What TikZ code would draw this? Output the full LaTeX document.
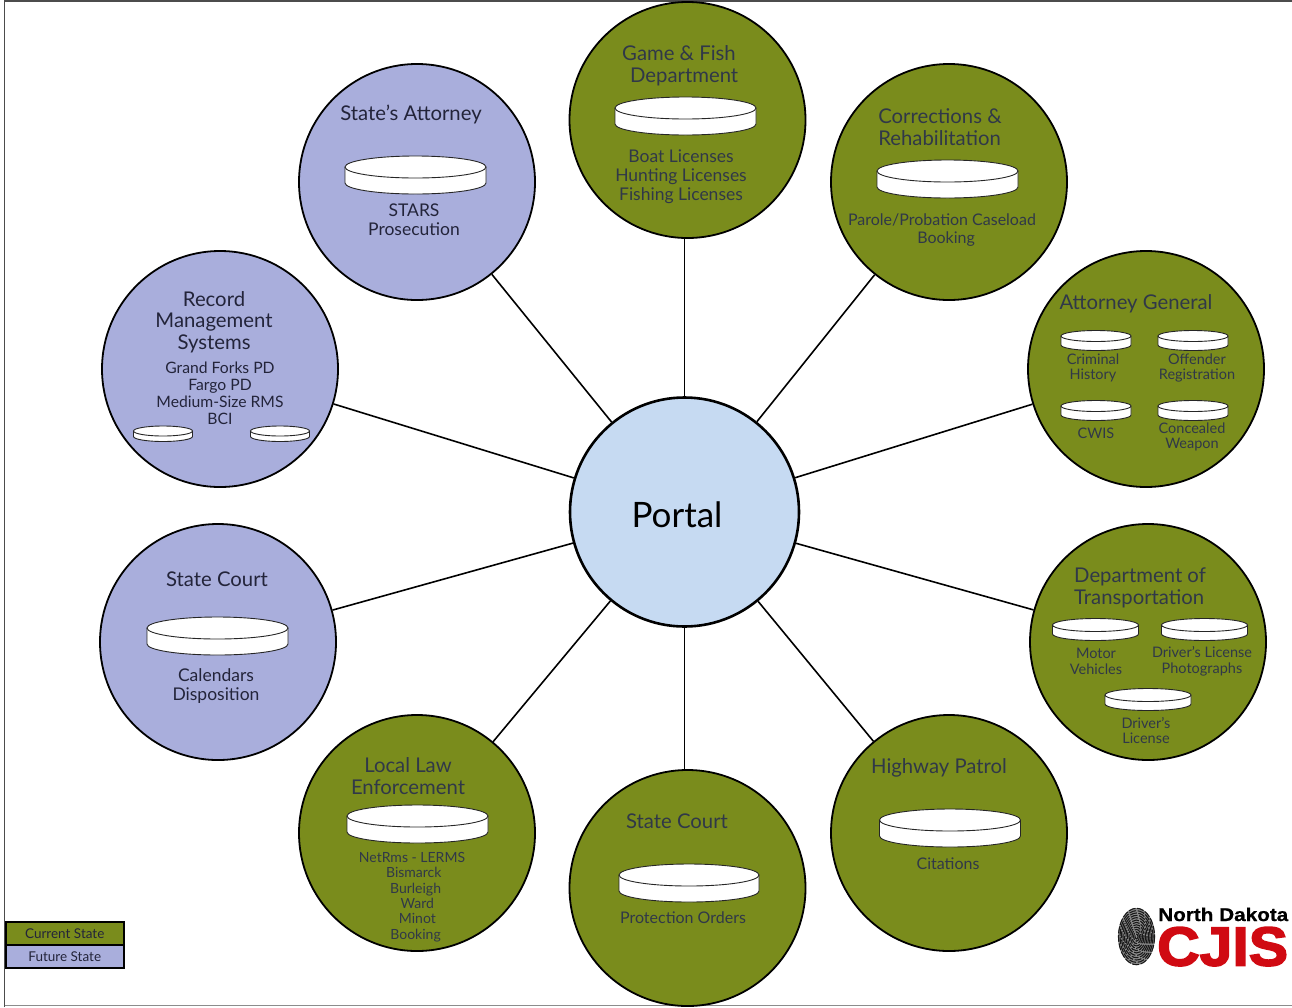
\documentclass[tikz,border=0pt]{standalone}
\usepackage{fontspec}
\setmainfont{Lato}
\newfontfamily\logofont{Liberation Sans}
\definecolor{greenfill}{HTML}{7A8C1C}
\definecolor{bluefill}{HTML}{A9AEDC}
\definecolor{portalfill}{HTML}{C6DAF2}
\definecolor{inkgreen}{HTML}{303848}
\definecolor{inkblue}{HTML}{23243A}
\definecolor{cjisred}{HTML}{D00A12}
\tikzset{
  hub/.style={circle,draw=black,line width=1.8pt,minimum size=236pt,inner sep=0pt},
  cur/.style={hub,fill=greenfill},
  fut/.style={hub,fill=bluefill},
  link/.style={draw=black,line width=1.6pt},
  big/.style={align=center,inner sep=0pt,font=\fontsize{20.3}{21.5}\selectfont},
  mid/.style={align=center,inner sep=0pt,font=\fontsize{17.5}{19}\selectfont},
  midn/.style={align=center,inner sep=0pt,font=\fontsize{16}{18.5}\selectfont},
  small/.style={align=center,inner sep=0pt,font=\fontsize{14.5}{15.5}\selectfont},
  tg/.style={text=inkgreen},
  tb/.style={text=inkblue},
  legendbox/.style={draw=black,line width=1.5pt,minimum width=118pt,minimum height=23pt,inner sep=0pt,font=\fontsize{13.5}{14}\selectfont,text=inkblue}
}
% disc: centre x, top-ellipse centre y, rx, ry, height
\newcommand{\disc}[5]{%
  \fill[white] (#1-#3,#2) -- (#1-#3,#2+#5) arc[start angle=180,end angle=0,x radius=#3,y radius=#4] -- (#1+#3,#2) arc[start angle=0,end angle=-180,x radius=#3,y radius=#4] -- cycle;
  \draw[black!85,line width=0.9pt] (#1,#2) ellipse[x radius=#3,y radius=#4];
  \draw[black!85,line width=0.9pt] (#1-#3,#2) -- (#1-#3,#2+#5) arc[start angle=180,end angle=0,x radius=#3,y radius=#4] -- (#1+#3,#2);
}
\begin{document}
\begin{tikzpicture}[x=1pt,y=-1pt]
\useasboundingbox (0,0) rectangle (1292,1007);
\draw[black!70,line width=1.2pt] (4.5,1007) -- (4.5,1) -- (1292,1);
\draw[black!45,line width=1.2pt] (4.5,1005.5) -- (1292,1005.5);

\node[circle,draw=black,line width=2.6pt,minimum size=229pt,inner sep=0pt,fill=portalfill] (portal) at (684.5,512) {};
\node[cur] (game) at (687.5,120) {};
\node[cur] (corr) at (949,182) {};
\node[cur] (ag) at (1146,369) {};
\node[cur] (dot) at (1148,642) {};
\node[cur] (hp) at (949,833) {};
\node[cur] (sc2) at (687.5,888) {};
\node[cur] (lle) at (417,833) {};
\node[fut] (sc1) at (218,642) {};
\node[fut] (rms) at (220,369) {};
\node[fut] (sa) at (417,182) {};
\foreach \n in {corr,ag,dot,hp,lle,sc1,rms,sa}
  \draw[link] (portal) -- (\n);
\draw[link] (portal.north) -- (portal.north |- game.south);
\draw[link] (portal.south) -- (portal.south |- sc2.north);

\node[inner sep=0pt,font=\fontsize{35}{35}\selectfont,text=black] (portallabel) at (677,515) {Portal};

% Game & Fish
\node[big,tg] (t1) at (679,66) {Game \& Fish\\\ \ Department};
\disc{685.5}{108}{70.5}{11}{16}
\node[mid,tg] (t1b) at (681,177) {Boat Licenses\\Hunting Licenses\\Fishing Licenses};

% Corrections
\node[big,tg,align=left] (t2) at (940,127) {Corrections \&\\Rehabilitation};
\disc{947.5}{171}{70.5}{11}{16}
\node[midn,tg] (t2b) at (942,230) {Parole/Probation Caseload\\\ \ Booking};

% Attorney General
\node[big,tg] (t3) at (1136,304) {Attorney General};
\disc{1096}{336}{35}{5.5}{9}
\disc{1193}{336}{35}{5.5}{9}
\disc{1096}{406}{35}{5.5}{9}
\disc{1193}{406}{35}{5.5}{9}
\node[small,tg] (t3a) at (1093,368) {Criminal\\History};
\node[small,tg] (t3b) at (1197,368) {Offender\\Registration};
\node[small,tg] (t3c) at (1096,433) {CWIS};
\node[small,tg] (t3d) at (1192,437) {Concealed\\Weapon};

% DOT
\node[big,tg,align=left] (t4) at (1140,588) {Department of\\Transportation};
\disc{1095.5}{625}{43}{6.5}{9}
\disc{1204.5}{625}{43}{6.5}{9}
\disc{1148}{695}{43}{6.5}{9}
\node[small,tg] (t4a) at (1096,661.5) {Motor\\Vehicles};
\node[small,tg] (t4b) at (1202,661.5) {Driver's License\\Photographs};
\node[small,tg] (t4c) at (1146,730.5) {Driver's\\License};

% Highway Patrol
\node[big,tg] (t5) at (939,768) {Highway Patrol};
\disc{950}{820}{70.5}{11}{16}
\node[midn,tg] (t5b) at (948,864) {Citations};

% State Court bottom
\node[big,tg] (t6) at (677,821) {State Court};
\disc{689}{875}{70}{11}{16}
\node[midn,tg] (t6b) at (683,918) {Protection Orders};

% Local Law
\node[big,tg] (t7) at (408,776) {Local Law\\Enforcement};
\disc{417.5}{816}{70.5}{11}{16}
\node[small,tg,font=\fontsize{14}{15.3}\selectfont] (t7b) at (412,897) {NetRms - LERMS\\\ Bismarck\\\ \ Burleigh\\\ \ \ Ward\\\ \ \ Minot\\\ \ Booking};

% State Court left
\node[big,tb] (t8) at (217,579) {State Court};
\disc{217.5}{628}{70.5}{11}{16}
\node[mid,tb] (t8b) at (216,686) {Calendars\\Disposition};

% RMS
\node[big,tb] (t9) at (214,322) {Record\\Management\\Systems};
\node[mid,tb,font=\fontsize{15.7}{17}\selectfont] (t9b) at (220,393) {Grand Forks PD\\Fargo PD\\Medium-Size RMS\\BCI};
\disc{163}{431}{29.5}{5}{5.5}
\disc{280}{431}{29.5}{5}{5.5}

% State's Attorney
\node[big,tb] (t10) at (411,114) {State's Attorney};
\disc{415.5}{167}{70.5}{11}{16}
\node[mid,tb] (t10b) at (414,220) {STARS\\Prosecution};

% Legend
\node[legendbox,fill=greenfill,anchor=north west] (lg1) at (5,921) {Current State};
\node[legendbox,fill=bluefill,anchor=north west] (lg2) at (5,944) {Future State};

% Logo
\fill[black!45] (1136.5,936.5) ellipse[x radius=18.5,y radius=28.5];
\foreach \k in {1,...,12}
  \draw[black!90,line width=1.1pt,dash pattern=on 7pt off 1.5pt] (1136.5,936.5) ellipse[x radius={\k*1.5},y radius={\k*2.35}];
\node[inner sep=0pt,anchor=base west,font=\logofont\bfseries\fontsize{18.5}{19}\selectfont,text=black] (logo1) at (1158,921) {\addfontfeature{FakeStretch=1.12,FakeBold=0.8}North Dakota};
\node[inner sep=0pt,anchor=base west,font=\logofont\bfseries\fontsize{55}{56}\selectfont,text=cjisred] (logo2) at (1157,965.5) {\addfontfeature{FakeStretch=1.07,FakeBold=3}CJIS};
\end{tikzpicture}
\end{document}
